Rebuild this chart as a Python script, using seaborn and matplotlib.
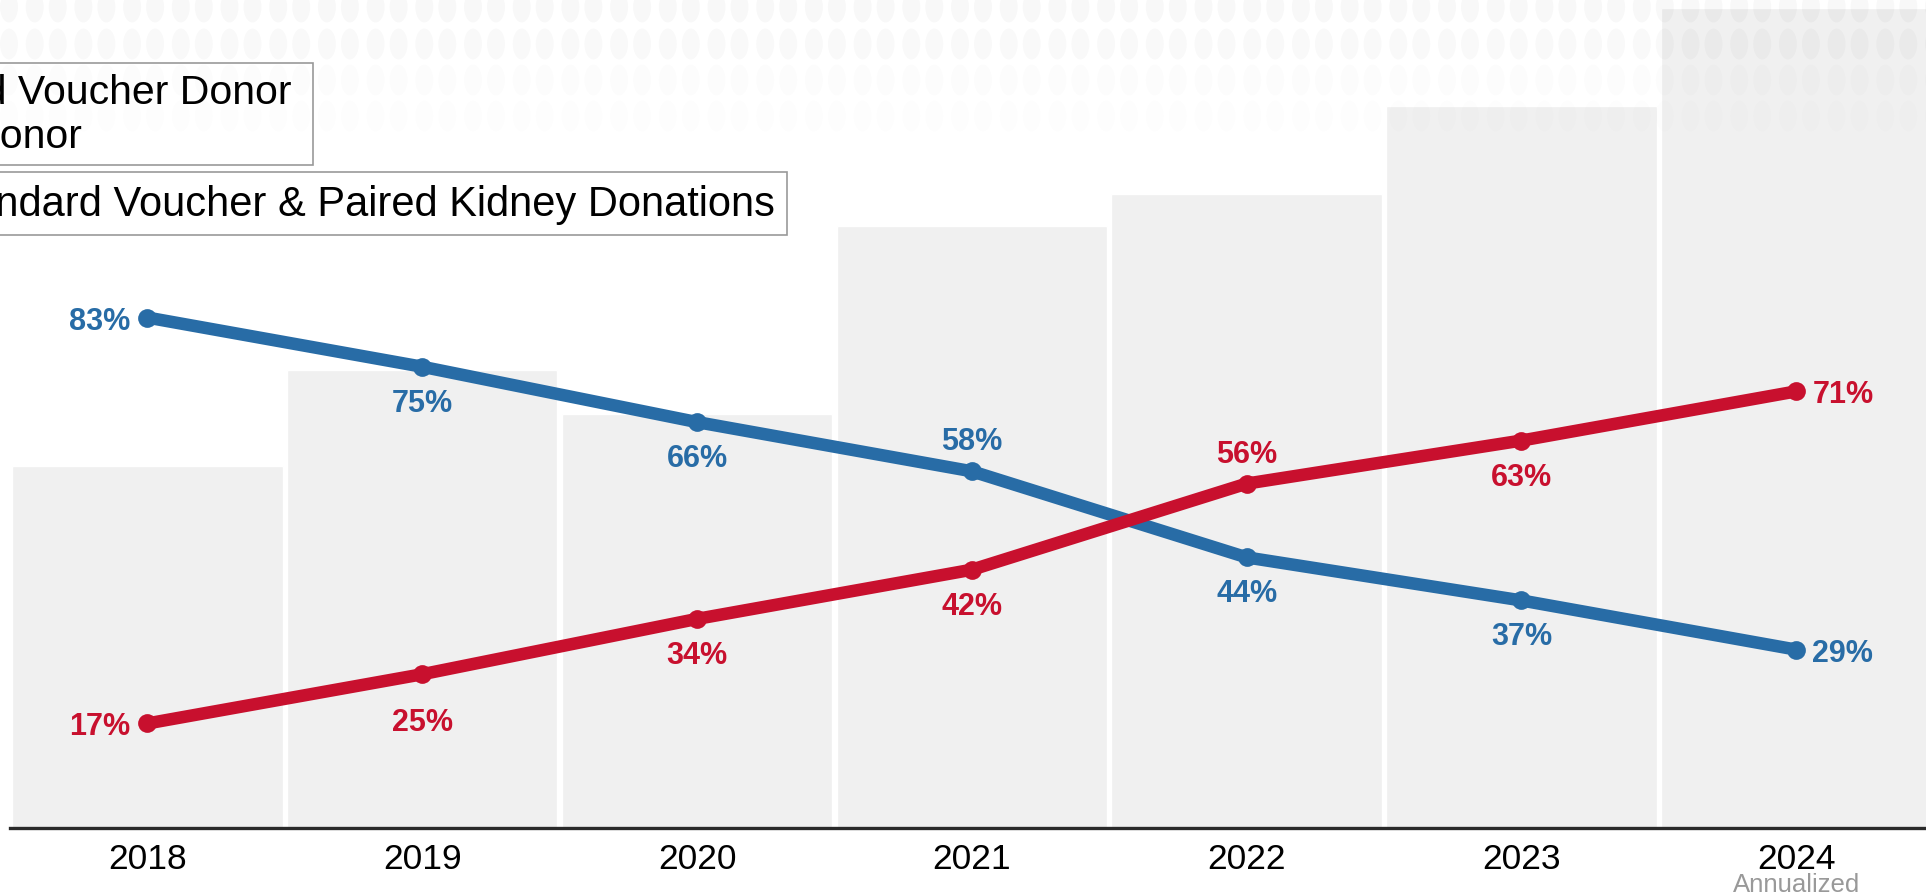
import matplotlib
matplotlib.use('Agg')
import matplotlib.pyplot as plt
import seaborn as sns
import pandas as pd
from matplotlib.lines import Line2D
from matplotlib.patches import Patch, Ellipse

# data
years = ['2018', '2019', '2020', '2021', '2022', '2023', '2024']
donations = [362, 458, 414, 602, 634, 722, 820]   # bar heights (relative)
voucher_pct = [17, 25, 34, 42, 56, 63, 71]        # red line
paired_pct = [83, 75, 66, 58, 44, 37, 29]         # blue line
voucher_pos = ['left', 'below2', 'below', 'below', 'above', 'below', 'right']
paired_pos = ['left', 'below', 'below', 'above', 'below', 'below', 'right']

RED = '#c8102e'
BLUE = '#286ca6'
BAR = '#f0f0f0'

sns.set_style('white')
plt.rcParams['font.family'] = ['Liberation Sans', 'DejaVu Sans']
plt.rcParams['text.color'] = 'black'
plt.rcParams['xtick.color'] = 'black'

W, H = 1926, 895
fig = plt.figure(figsize=(W / 100, H / 100), dpi=100)
ax = fig.add_axes([10 / W, 66 / H, 1 - 10 / W, 829 / H])
ax.patch.set_alpha(0)

df = pd.DataFrame({'year': years, 'donations': donations})
sns.barplot(data=df, x='year', y='donations', color=BAR, saturation=1,
            width=0.984, ax=ax, zorder=1)
ax.set_ylim(0, 829)
ax.set_xlim(-0.5, 6.472)
ax.set_xlabel('')
ax.set_ylabel('')
ax.set_yticks([])
for s in ['top', 'right', 'left']:
    ax.spines[s].set_visible(False)
ax.spines['bottom'].set_color('#2a2a2a')
ax.spines['bottom'].set_linewidth(2.4)
ax.tick_params(axis='x', length=0, labelsize=25.5, pad=10, labelcolor='black')

ax.annotate('Annualized', xy=(6, 0), xycoords=('data', 'axes fraction'),
            xytext=(0, -45.5), textcoords='offset points',
            ha='center', va='baseline', fontsize=18.5, color='#999999')

# percentage lines on a twin axis
ax2 = ax.twinx()
ax2.set_ylim(0, 829 / 6.15)
ax2.set_yticks([])
for s in ax2.spines.values():
    s.set_visible(False)

idx = list(range(len(years)))
sns.lineplot(x=idx, y=paired_pct, color=BLUE, linewidth=9, marker='o',
             markersize=13.5, markeredgewidth=0, ax=ax2, zorder=3)
sns.lineplot(x=idx, y=voucher_pct, color=RED, linewidth=9, marker='o',
             markersize=13.5, markeredgewidth=0, ax=ax2, zorder=4)

px = 72 / 100  # points per pixel


def label(vals, positions, color):
    for i, (v, p) in enumerate(zip(vals, positions)):
        if p == 'left':
            off, ha = (-17 * px, -11 * px), 'right'
        elif p == 'right':
            off, ha = (16 * px, -11 * px), 'left'
        elif p == 'above':
            off, ha = (0, 22 * px), 'center'
        elif p == 'below2':
            off, ha = (0, -56 * px), 'center'
        else:
            off, ha = (0, -44 * px), 'center'
        ax2.annotate(f'{v}%', xy=(i, v), xytext=off, textcoords='offset points',
                     ha=ha, va='baseline', fontsize=22, fontweight='bold',
                     color=color)


label(paired_pct, paired_pos, BLUE)
label(voucher_pct, voucher_pos, RED)

# legends, partly cut off at the left edge as in the original
line_handles = [Line2D([], [], color=RED, linewidth=8, marker='o', markersize=12),
                Line2D([], [], color=BLUE, linewidth=8, marker='o', markersize=12)]
leg1 = fig.legend(line_handles, ['Standard Voucher Donor ', 'Paired Donor'],
                  loc='upper right', bbox_to_anchor=(313 / W, 1 - 64 / H),
                  fontsize=29.5, frameon=True, fancybox=False, borderaxespad=0,
                  edgecolor='#999999', framealpha=1, facecolor='white',
                  labelspacing=0.16, borderpad=0.24, handletextpad=0.5)
leg1.get_frame().set_linewidth(1.2)
leg2 = fig.legend([Patch(facecolor=BAR)], ['Standard Voucher & Paired Kidney Donations'],
                  loc='upper right', bbox_to_anchor=(787 / W, 1 - 173 / H),
                  fontsize=30, frameon=True, fancybox=False, borderaxespad=0,
                  edgecolor='#999999', framealpha=1, facecolor='white',
                  borderpad=0.28, handletextpad=0.5)
leg2.get_frame().set_linewidth(1.2)
for leg in (leg1, leg2):
    for t in leg.get_texts():
        t.set_color('black')

# faint kidney pattern along the top
row_y = [8, 45, 81, 117]
row_alpha = [0.028, 0.022, 0.013, 0.006]
for yy, a in zip(row_y, row_alpha):
    x0 = -14
    while x0 < W + 30:
        for dx in (0, 23):
            e = Ellipse(((x0 + dx) / W, 1 - yy / H), 18 / W, 31 / H,
                        transform=fig.transFigure, facecolor='black',
                        edgecolor='none', alpha=a, zorder=6)
            fig.add_artist(e)
        x0 += 48.7

fig.savefig('out.png', dpi=100)
